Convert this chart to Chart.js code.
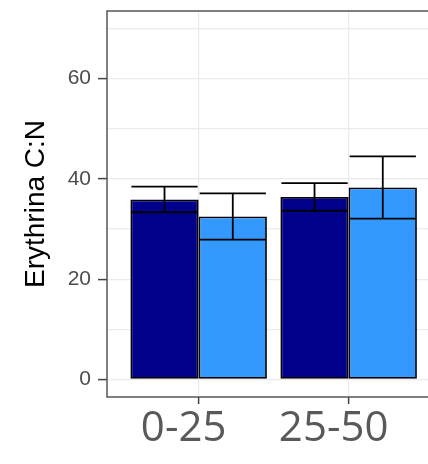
<!DOCTYPE html>
<html>
<head>
<meta charset="utf-8">
<script src="https://cdn.jsdelivr.net/npm/chart.js@4.4.1/dist/chart.umd.min.js"></script>
<style>
  html, body { margin: 0; padding: 0; background: #fff; overflow: hidden; }
  #wrap { width: 440px; height: 464px; }
</style>
</head>
<body>
<div id="wrap"><canvas id="chart" width="440" height="464"></canvas></div>
<script>
// depth classes (cm) and C:N means with error
const depths = ['0-25', '25-50'];
const darkMean = [35.9, 36.4];
const darkErr = [2.55, 2.75];
const lightMean = [32.5, 38.3];
const lightErr = [4.6, 6.2];
const yTicks = [0, 10, 20, 30, 40, 50, 60, 70];
const yLabelled = [0, 20, 40, 60];

const toPoints = arr => arr.map((v, i) => ({ x: i, y: v }));

// error bars + panel border, drawn on top of the bars
const panelPlugin = {
  id: 'panel',
  afterDatasetsDraw(chart) {
    const { ctx, scales: { y } } = chart;
    ctx.save();
    ctx.strokeStyle = '#000';
    ctx.lineWidth = 1.8;
    chart.data.datasets.forEach((ds, di) => {
      chart.getDatasetMeta(di).data.forEach((bar, i) => {
        const mean = ds.data[i].y, e = ds.err[i];
        const top = y.getPixelForValue(mean + e);
        const bot = y.getPixelForValue(mean - e);
        const half = bar.width / 2 - 1;
        ctx.beginPath();
        ctx.moveTo(bar.x - half, top); ctx.lineTo(bar.x + half, top);
        ctx.moveTo(bar.x - half, bot); ctx.lineTo(bar.x + half, bot);
        ctx.moveTo(bar.x, top); ctx.lineTo(bar.x, bot);
        ctx.stroke();
      });
    });
    const a = chart.chartArea;
    ctx.strokeStyle = '#555';
    ctx.lineWidth = 1.5;
    ctx.strokeRect(a.left, a.top, a.right - a.left, a.bottom - a.top);
    ctx.restore();
  }
};

new Chart(document.getElementById('chart'), {
  type: 'bar',
  data: {
    datasets: [
      { label: 'dark', data: toPoints(darkMean), err: darkErr,
        backgroundColor: '#00008B', borderColor: '#000', borderWidth: 1.8, borderSkipped: false },
      { label: 'light', data: toPoints(lightMean), err: lightErr,
        backgroundColor: '#3399FF', borderColor: '#000', borderWidth: 1.8, borderSkipped: false }
    ]
  },
  options: {
    responsive: false,
    animation: false,
    events: [],
    layout: { padding: { top: 11, right: 3, left: 0, bottom: 0 } },
    categoryPercentage: 0.91,
    barPercentage: 1,
    plugins: { legend: { display: false }, tooltip: { enabled: false } },
    scales: {
      x: {
        type: 'linear', min: -0.611, max: 1.589,
        offset: false,
        afterBuildTicks: s => { s.ticks = depths.map((_, i) => ({ value: i })); },
        afterFit: s => { s.height = 67; s.paddingLeft = 0; s.paddingRight = 0; },
        border: { display: false },
        grid: { offset: false, color: '#ebebeb', lineWidth: 1.2, tickLength: 7, tickColor: '#444', tickWidth: 1.5 },
        ticks: {
          callback: v => depths[v],
          color: '#595959',
          font: { family: '"Open Sans"', size: 42 },
          padding: 0, labelOffset: -15, maxRotation: 0, autoSkip: false
        }
      },
      y: {
        type: 'linear', min: -3.5, max: 73.5,
        afterBuildTicks: s => { s.ticks = yTicks.map(v => ({ value: v })); },
        afterFit: s => { s.width = 107; s.paddingTop = 0; s.paddingBottom = 0; },
        border: { display: false },
        grid: {
          color: '#ebebeb', lineWidth: 1.2, tickLength: 9, tickWidth: 1.5,
          tickColor: c => yLabelled.includes(c.tick.value) ? '#444' : 'rgba(0,0,0,0)'
        },
        ticks: {
          callback: v => yLabelled.includes(v) ? v : '',
          color: '#4d4d4d',
          font: { family: '"Liberation Sans", Arial', size: 21 },
          padding: 7
        },
        title: {
          display: true, text: 'Erythrina C:N', color: '#000',
          font: { family: '"Liberation Sans", Arial', size: 28 },
          padding: { top: 19, bottom: 0 }
        }
      }
    }
  },
  plugins: [panelPlugin]
});
</script>
</body>
</html>
